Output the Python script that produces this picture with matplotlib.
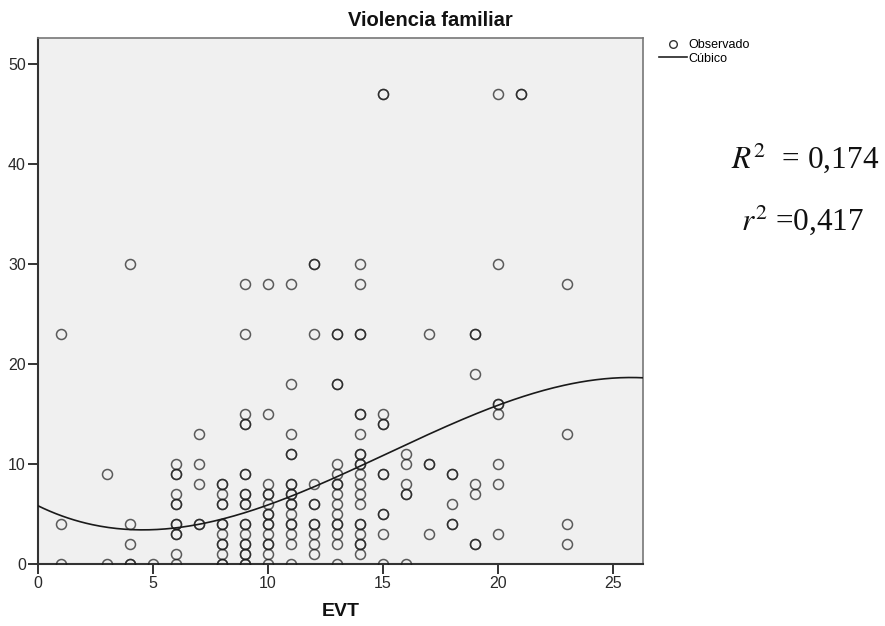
import numpy as np
import matplotlib
matplotlib.use("Agg")
import matplotlib.pyplot as plt
from matplotlib.lines import Line2D

plt.rcParams['font.family'] = ['Liberation Sans', 'DejaVu Sans']
plt.rcParams['mathtext.fontset'] = 'stix'

# ---- data (EVT vs Violencia familiar) ----
evt = ([1]*3 + [3]*2 + [4]*5 + [5]*1 + [6]*12 + [7]*5 + [8]*13 + [9]*20 +
       [10]*15 + [11]*17 + [12]*11 + [13]*16 + [14]*21 + [15]*11 + [16]*6 +
       [17]*4 + [18]*5 + [19]*7 + [20]*8 + [21]*2 + [23]*4)
violencia = (
    [23, 4, 0] +
    [9, 0] +
    [30, 4, 2, 0, 0] +
    [0] +
    [10, 9, 9, 7, 6, 6, 4, 4, 3, 3, 1, 0] +
    [13, 10, 8, 4, 4] +
    [8, 8, 7, 6, 6, 4, 4, 3, 2, 2, 1, 0, 0] +
    [28, 23, 15, 14, 14, 9, 9, 7, 7, 6, 6, 4, 4, 3, 2, 2, 1, 1, 0, 0] +
    [28, 15, 8, 7, 7, 6, 5, 5, 4, 4, 3, 2, 2, 1, 0] +
    [28, 18, 13, 11, 11, 8, 8, 7, 7, 6, 6, 5, 4, 4, 3, 2, 0] +
    [30, 30, 23, 8, 6, 6, 4, 4, 3, 2, 1] +
    [23, 23, 18, 18, 10, 9, 8, 8, 7, 6, 5, 4, 4, 3, 2, 0] +
    [30, 28, 23, 23, 15, 15, 13, 11, 11, 10, 10, 9, 8, 7, 6, 4, 4, 3, 2, 2, 1] +
    [47, 47, 15, 14, 14, 9, 9, 5, 5, 3, 0] +
    [11, 10, 8, 7, 7, 0] +
    [23, 10, 10, 3] +
    [9, 9, 6, 4, 4] +
    [23, 23, 19, 8, 7, 2, 2] +
    [47, 30, 16, 16, 15, 10, 8, 3] +
    [47, 47] +
    [28, 13, 4, 2]
)
# readings of the fitted cubic curve shown in the picture
cubic_x = [0, 2.5, 4.7, 7.06, 10.97, 15, 20, 23.6, 26.3]
cubic_y = [5.8, 4.1, 3.3, 4.03, 6.76, 10.86, 16.0, 18.1, 18.7]

x_ticks = [0, 5, 10, 15, 20, 25]
y_ticks = [0, 10, 20, 30, 40, 50]
title = "Violencia familiar"
xlabel = "EVT"
legend_labels = ["Observado", "Cúbico"]
R2_text = r"$R^2$  = 0,174"
r2_text = r"$r^2$ =0,417"

evt = np.array(evt, dtype=float)
violencia = np.array(violencia, dtype=float)

# cubic model reconstructed from the curve readings
coef = np.polyfit(cubic_x, cubic_y, 3)
xs = np.linspace(0, 26.3, 300)
ys = np.polyval(coef, xs)

W, H = 885, 626
fig = plt.figure(figsize=(W/100, H/100), dpi=100)
ax = fig.add_axes([37.7/W, 1-564.3/H, (642.7-37.7)/W, (564.3-37.7)/H])
ax.set_facecolor('#f0f0f0')

ax.plot(evt, violencia, linestyle='none', marker='o', markersize=7.2,
        markerfacecolor='none', markeredgecolor=(0.1, 0.1, 0.1, 0.7),
        markeredgewidth=1.1, zorder=3)
ax.plot(xs, ys, color='#1a1a1a', linewidth=1.2, zorder=4)

ax.set_xlim(0, 26.3)
ax.set_ylim(0, 52.66)
ax.set_xticks(x_ticks)
ax.set_yticks(y_ticks)
ax.tick_params(direction='out', length=7, width=1.4, color='#333333',
               labelsize=11.5, labelcolor='#2a2a2a', pad=1.5)
for side in ['left', 'bottom']:
    ax.spines[side].set_color('#333333')
    ax.spines[side].set_linewidth(1.5)
for side in ['top', 'right']:
    ax.spines[side].set_color('#777777')
    ax.spines[side].set_linewidth(1.2)

fig.text(430/W, 1-21/H, title, ha='center', va='center', fontsize=14.5,
         fontweight='bold', color='#111111')
fig.text(341/W, 1-612/H, xlabel, ha='center', va='center', fontsize=14,
         fontweight='bold', color='#111111')

handles = [Line2D([], [], linestyle='none', marker='o', markersize=5.5,
                  markerfacecolor='none', markeredgecolor='#333333', markeredgewidth=1.0),
           Line2D([], [], color='#222222', linewidth=1.2)]
fig.legend(handles, legend_labels, loc='upper left',
           bbox_to_anchor=(659/W, 1-39/H), frameon=False, fontsize=9,
           handlelength=2.2, handletextpad=0.15, labelspacing=0.12,
           borderpad=0, borderaxespad=0)

fig.text(731/W, 1-158/H, R2_text, ha='left', va='center', fontsize=22.5,
         family=['Liberation Serif', 'DejaVu Serif'], color='#111111')
fig.text(741/W, 1-220/H, r2_text, ha='left', va='center', fontsize=22.5,
         family=['Liberation Serif', 'DejaVu Serif'], color='#111111')

fig.savefig('out.png', dpi=100)
